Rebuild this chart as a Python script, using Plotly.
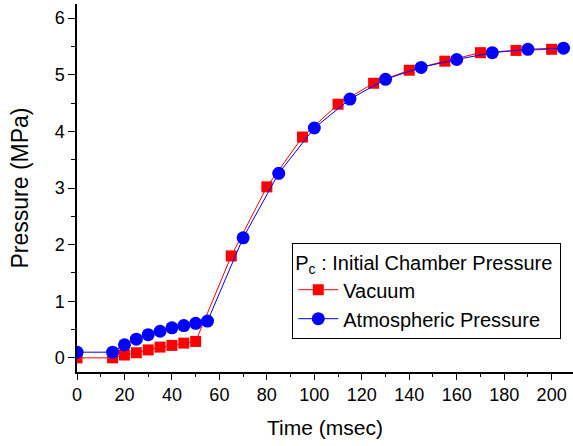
import plotly.graph_objects as go

vac_x = [0, 15, 20, 25, 30, 35, 40, 45, 50, 65, 80, 95, 110, 125, 140, 155, 170, 185, 200]
vac_y = [0.0, 0.0, 0.05, 0.09, 0.14, 0.19, 0.22, 0.26, 0.29, 1.80, 3.02, 3.90, 4.48, 4.85, 5.08, 5.24, 5.39, 5.43, 5.45]
atm_x = [0, 15, 20, 25, 30, 35, 40, 45, 50, 55, 70, 85, 100, 115, 130, 145, 160, 175, 190, 205]
atm_y = [0.10, 0.10, 0.23, 0.33, 0.41, 0.47, 0.53, 0.57, 0.61, 0.65, 2.12, 3.26, 4.06, 4.57, 4.92, 5.13, 5.27, 5.39, 5.45, 5.47]

FONT = "Liberation Sans, Arial, sans-serif"

fig = go.Figure()
fig.add_trace(go.Scatter(x=vac_x, y=vac_y, mode="lines+markers", name="Vacuum",
                         line=dict(color="#ff0000", width=1),
                         marker=dict(symbol="square", size=11, color="#ff0000")))
fig.add_trace(go.Scatter(x=atm_x, y=atm_y, mode="lines+markers", name="Atmospheric Pressure",
                         line=dict(color="#0000ff", width=1),
                         marker=dict(symbol="circle", size=13, color="#0000ff")))

fig.update_layout(
    width=573, height=446,
    margin=dict(l=77, r=0, t=4, b=74),
    paper_bgcolor="white", plot_bgcolor="white",
    font=dict(family=FONT, size=20, color="black"),
    showlegend=True,
    legend=dict(
        x=0.434, y=0.350, xanchor="left", yanchor="top",
        bordercolor="black", borderwidth=1, bgcolor="white",
        title=dict(text="P<sub>c</sub> : Initial Chamber Pressure&nbsp;", font=dict(size=20)),
        font=dict(size=20), itemwidth=40, tracegroupgap=0,
    ),
    xaxis=dict(
        range=[0, 209], tickmode="array", tickvals=list(range(0, 201, 20)),
        ticks="outside", ticklen=6, tickwidth=1, tickcolor="black",
        minor=dict(dtick=10, ticks="outside", ticklen=3, tickcolor="black"),
        showline=True, linecolor="black", linewidth=1.5, showgrid=False, zeroline=False,
        tickfont=dict(size=18),
        title=dict(text="Time (msec)", font=dict(size=21), standoff=16),
    ),
    yaxis=dict(
        range=[-0.25, 6.25], tickmode="array", tickvals=[0, 1, 2, 3, 4, 5, 6],
        ticks="outside", ticklen=7, tickwidth=1, tickcolor="black",
        minor=dict(dtick=0.5, ticks="outside", ticklen=4, tickcolor="black"),
        showline=True, linecolor="black", linewidth=1.5, showgrid=False, zeroline=False,
        tickfont=dict(size=18),
        title=dict(text="Pressure (MPa)", font=dict(size=23), standoff=20),
    ),
)

fig.write_html("out.html")
